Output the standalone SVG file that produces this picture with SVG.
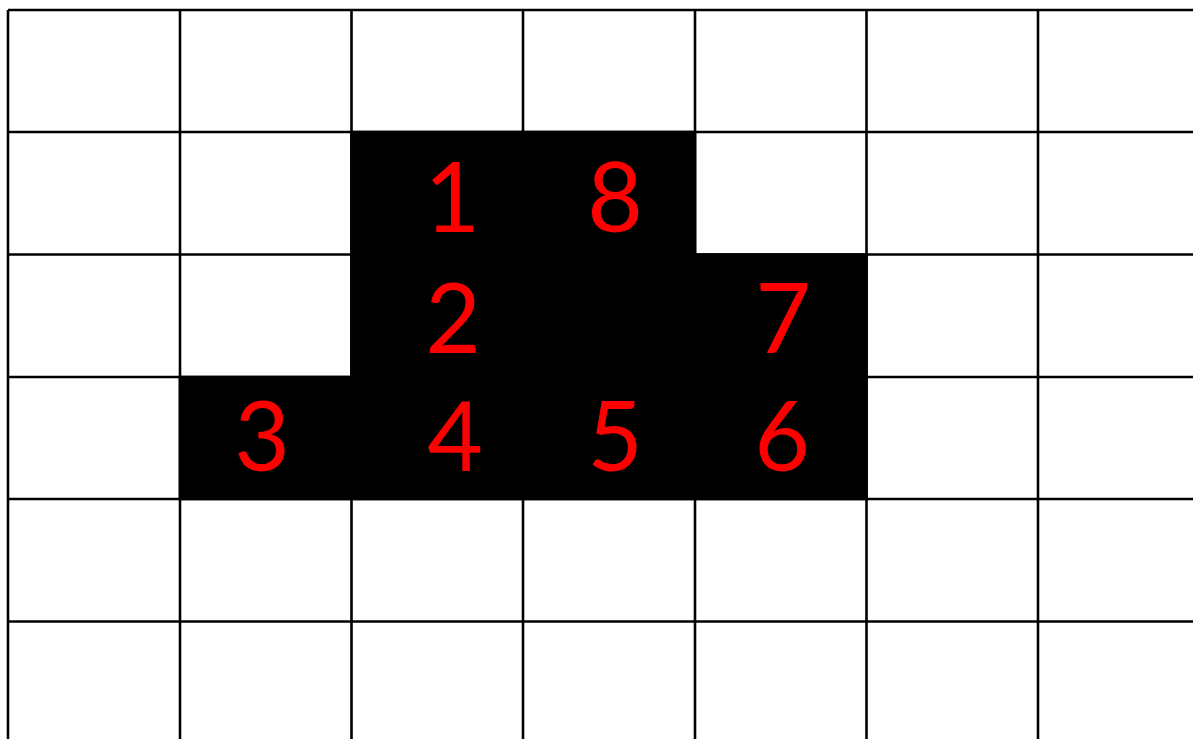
<svg xmlns="http://www.w3.org/2000/svg" width="1193" height="739" viewBox="0 0 1193 739">
<style>
.grid{stroke:#000;stroke-width:2.6;fill:none}
.num{fill:#ff0000;font-family:Lato,"Open Sans",sans-serif;font-size:96px;text-anchor:middle}
</style>
<rect x="0" y="0" width="1193" height="739" fill="#fff"/>
<g id="grid">
<path class="grid" d="M8,10V739M180,10V739M351.5,10V739M523,10V739M695,10V739M866.5,10V739M1038,10V739M8,10H1193M8,132H1193M8,254.5H1193M8,377H1193M8,499H1193M8,621.5H1193"/>
</g>
<g id="shape">
<polygon points="351.5,132 695,132 695,254.5 866.5,254.5 866.5,499 180,499 180,377 351.5,377" fill="#000" stroke="#000" stroke-width="2.6"/>
</g>
<g id="labels">
<text class="num" x="452" y="232">1</text>
<text class="num" x="615" y="232">8</text>
<text class="num" x="453" y="353">2</text>
<text class="num" x="783" y="353">7</text>
<text class="num" x="262" y="471">3</text>
<text class="num" x="455" y="471">4</text>
<text class="num" x="615" y="471">5</text>
<text class="num" x="782" y="471">6</text>
</g>
</svg>
